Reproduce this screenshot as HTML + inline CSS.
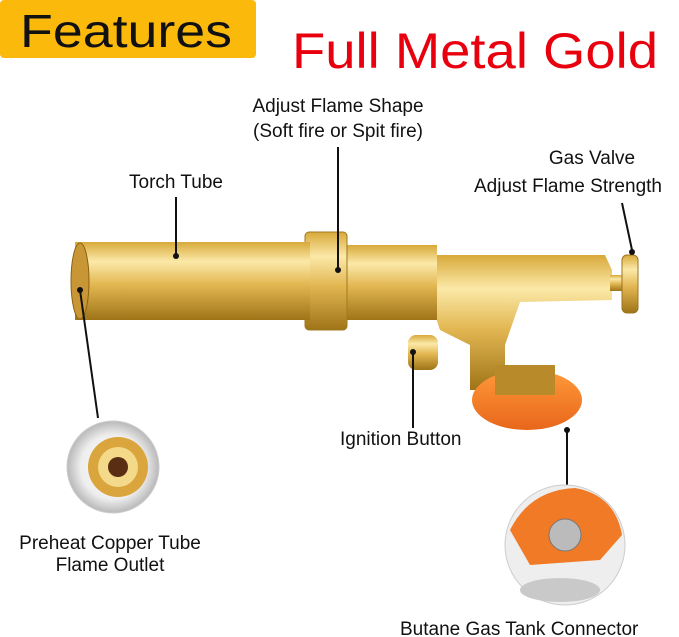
<!DOCTYPE html>
<html><head><style>
body{margin:0;background:#fff;}
svg{display:block;}
text{font-family:"Liberation Sans",sans-serif;}
</style></head><body>
<svg width="679" height="637" viewBox="0 0 679 637" xmlns="http://www.w3.org/2000/svg">
<defs>
<linearGradient id="g" x1="0" y1="0" x2="0" y2="1">
<stop offset="0" stop-color="#d8a93a"/><stop offset="0.25" stop-color="#fbe9a8"/><stop offset="0.55" stop-color="#e2b651"/><stop offset="1" stop-color="#9e7418"/>
</linearGradient>
<linearGradient id="o" x1="0" y1="0" x2="0" y2="1"><stop offset="0" stop-color="#ff9a3a"/><stop offset="1" stop-color="#e8661a"/></linearGradient>
<radialGradient id="c1"><stop offset="0" stop-color="#fff"/><stop offset="0.7" stop-color="#eee"/><stop offset="1" stop-color="#b8b8b8"/></radialGradient>
</defs>
<rect x="0" y="0" width="256" height="58" rx="4" fill="#fbb90c"/>
<text x="20" y="47" font-size="46" fill="#111" textLength="212" lengthAdjust="spacingAndGlyphs">Features</text>
<text x="292" y="68" font-size="50" fill="#e8000f" textLength="366" lengthAdjust="spacingAndGlyphs">Full Metal Gold</text>

<text x="338" y="112" font-size="19" text-anchor="middle" fill="#111">Adjust Flame Shape</text>
<text x="338" y="137" font-size="19" text-anchor="middle" fill="#111">(Soft fire or Spit fire)</text>
<text x="176" y="188" font-size="19" text-anchor="middle" fill="#111">Torch Tube</text>
<text x="592" y="164" font-size="19" text-anchor="middle" fill="#111">Gas Valve</text>
<text x="568" y="192" font-size="19" text-anchor="middle" fill="#111">Adjust Flame Strength</text>

<!-- torch -->
<path d="M435 255 L605 255 L612 270 L612 300 L520 302 L505 345 L505 390 L470 390 L470 345 L440 330 L435 315 Z" fill="url(#g)"/>
<ellipse cx="527" cy="400" rx="55" ry="30" fill="url(#o)"/>
<rect x="495" y="365" width="60" height="30" fill="#b88a2a"/>
<rect x="345" y="245" width="92" height="75" fill="url(#g)"/>
<rect x="305" y="232" width="42" height="98" rx="4" fill="url(#g)" stroke="#a07a20"/>
<rect x="75" y="242" width="235" height="78" fill="url(#g)"/>
<ellipse cx="80" cy="281" rx="9" ry="38" fill="#c99636" stroke="#8a6214"/>
<rect x="408" y="335" width="30" height="35" rx="8" fill="url(#g)"/>
<rect x="610" y="275" width="18" height="16" fill="url(#g)"/>
<rect x="622" y="255" width="16" height="58" rx="5" fill="url(#g)" stroke="#9a7420"/>

<!-- lines -->
<g stroke="#111" stroke-width="2">
<line x1="176" y1="197" x2="176" y2="254"/>
<line x1="338" y1="147" x2="338" y2="268"/>
<line x1="622" y1="203" x2="632" y2="250"/>
<line x1="413" y1="352" x2="413" y2="428"/>
<line x1="80" y1="290" x2="98" y2="418"/>
<line x1="567" y1="430" x2="567" y2="485"/>
</g>
<g fill="#111"><circle cx="176" cy="256" r="3"/><circle cx="338" cy="270" r="3"/><circle cx="632" cy="252" r="3"/><circle cx="413" cy="352" r="3"/><circle cx="80" cy="290" r="3"/><circle cx="567" cy="430" r="3"/></g>

<!-- left circle -->
<circle cx="113" cy="467" r="46" fill="url(#c1)" stroke="#ccc"/>
<circle cx="118" cy="467" r="30" fill="#d9a53c"/>
<circle cx="118" cy="467" r="20" fill="#f4d98a"/>
<circle cx="118" cy="467" r="10" fill="#5a2e12"/>
<!-- right circle -->
<circle cx="565" cy="545" r="60" fill="#eee" stroke="#ccc"/>
<path d="M510 530 Q530 490 575 488 Q615 495 622 535 L600 560 L530 565 Z" fill="#f07a25"/>
<circle cx="565" cy="535" r="16" fill="#bbb" stroke="#777"/>
<ellipse cx="560" cy="590" rx="40" ry="12" fill="#c9c9c9"/>

<text x="340" y="445" font-size="19" fill="#111">Ignition Button</text>
<text x="110" y="549" font-size="19" text-anchor="middle" fill="#111">Preheat Copper Tube</text>
<text x="110" y="571" font-size="19" text-anchor="middle" fill="#111">Flame Outlet</text>
<text x="400" y="635" font-size="19" fill="#111">Butane Gas Tank Connector</text>
</svg>
</body></html>
